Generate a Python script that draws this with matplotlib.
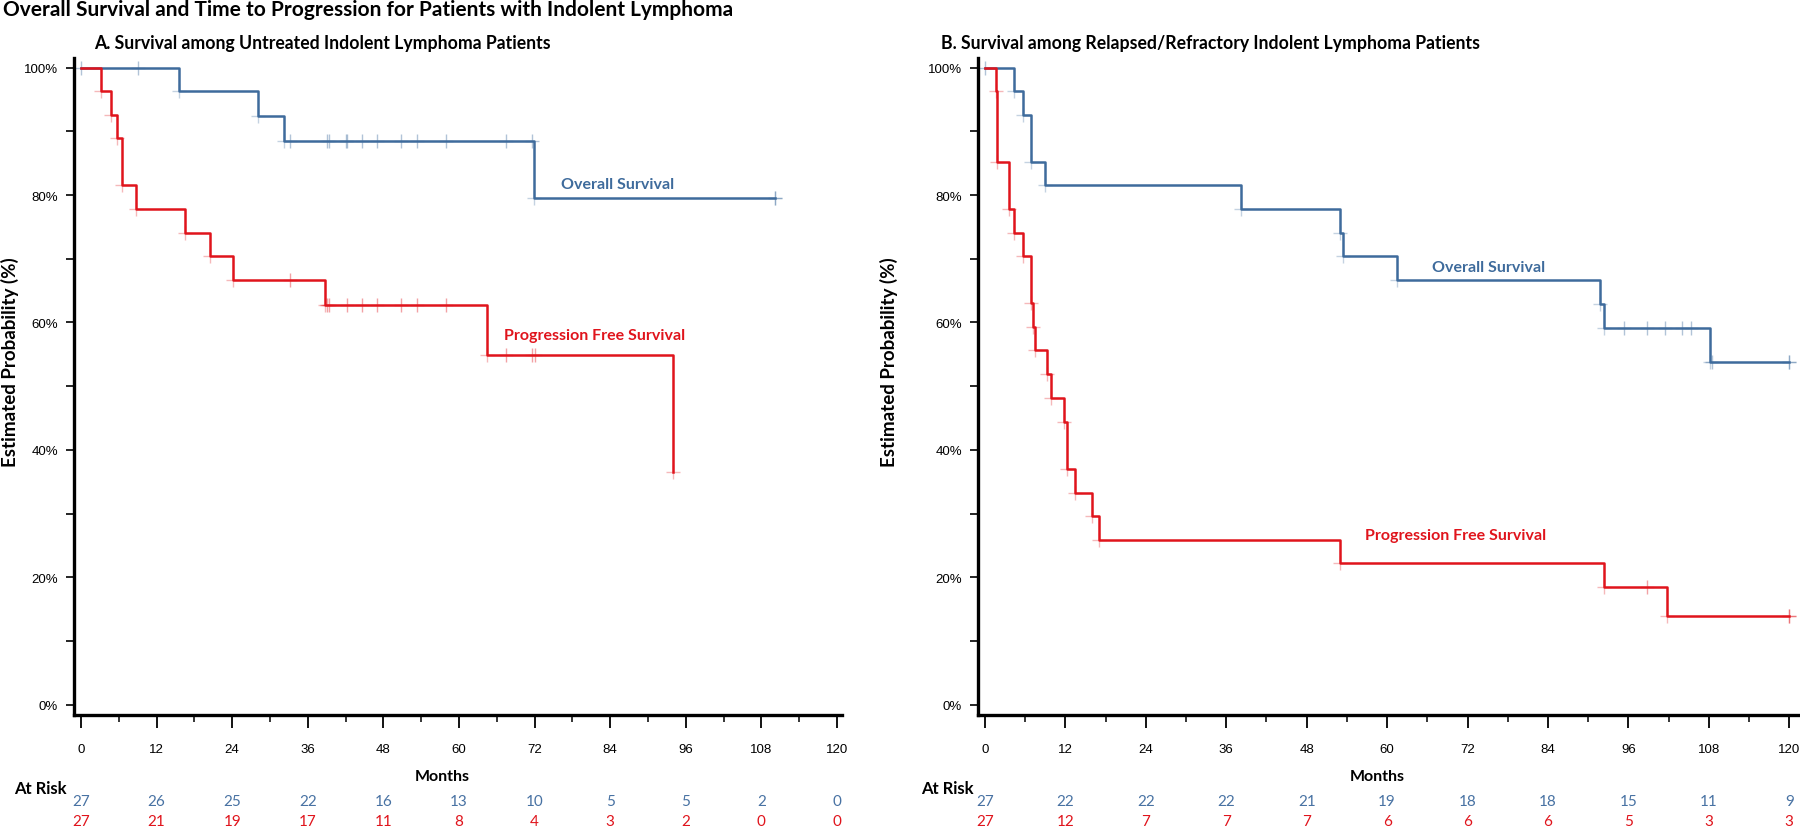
import matplotlib
matplotlib.use("Agg")
import matplotlib.pyplot as plt
import matplotlib.transforms as mtransforms
from matplotlib.ticker import MultipleLocator, FuncFormatter

plt.rcParams['font.family'] = ['Lato', 'DejaVu Sans']

BLUE = '#3E6B9C'
RED = '#E0141C'
BLUE_TXT = '#4872A3'

# Panel A: untreated patients (months, survival %)
os_a_t = [0, 15.5, 28.1, 32.2, 71.9, 110.1]
os_a_s = [100, 96.3, 92.4, 88.4, 79.6, 79.6]
os_a_cens_t = [0, 9.1, 33.1, 39.1, 39.4, 42.0, 42.3, 44.6, 47.0, 50.8, 53.4, 58.0, 67.4, 71.6, 110.1]
os_a_cens_s = [100, 100, 88.4, 88.4, 88.4, 88.4, 88.4, 88.4, 88.4, 88.4, 88.4, 88.4, 88.4, 88.4, 79.6]

pfs_a_t = [0, 3.2, 4.7, 5.7, 6.5, 8.7, 16.5, 20.4, 24.2, 38.8, 64.5, 93.9]
pfs_a_s = [100, 96.3, 92.6, 88.9, 81.5, 77.8, 74.1, 70.4, 66.7, 62.7, 54.9, 36.6]
pfs_a_cens_t = [33.1, 39.1, 39.4, 42.2, 44.6, 47.0, 50.8, 53.4, 58.0, 67.4, 71.6, 72.0]
pfs_a_cens_s = [66.7, 62.7, 62.7, 62.7, 62.7, 62.7, 62.7, 62.7, 62.7, 54.9, 54.9, 54.9]

# Panel B: relapsed/refractory patients
os_b_t = [0, 4.4, 5.6, 6.8, 8.9, 38.2, 52.9, 53.4, 61.5, 91.7, 92.3, 108.1, 119.9]
os_b_s = [100, 96.3, 92.6, 85.2, 81.5, 77.8, 74.1, 70.4, 66.7, 62.9, 59.2, 53.8, 53.8]
os_b_cens_t = [0, 95.3, 98.7, 101.4, 104.0, 105.4, 108.4, 119.9]
os_b_cens_s = [100, 59.2, 59.2, 59.2, 59.2, 59.2, 53.8, 53.8]

pfs_b_t = [0, 1.6, 1.8, 3.6, 4.4, 5.6, 6.8, 7.2, 7.5, 9.2, 9.8, 11.8, 12.2, 13.4, 15.9, 17.0,
           52.9, 92.3, 101.7, 119.9]
pfs_b_s = [100, 96.3, 85.2, 77.8, 74.1, 70.4, 63.0, 59.3, 55.6, 51.9, 48.1, 44.4, 37.0, 33.3,
           29.6, 25.9, 22.2, 18.5, 13.9, 13.9]
pfs_b_cens_t = [98.7, 119.9]
pfs_b_cens_s = [18.5, 13.9]

risk_months = [0, 12, 24, 36, 48, 60, 72, 84, 96, 108, 120]
risk_os_a = [27, 26, 25, 22, 16, 13, 10, 5, 5, 2, 0]
risk_pfs_a = [27, 21, 19, 17, 11, 8, 4, 3, 2, 0, 0]
risk_os_b = [27, 22, 22, 22, 21, 19, 18, 18, 15, 11, 9]
risk_pfs_b = [27, 12, 7, 7, 7, 6, 6, 6, 5, 3, 3]

W, H = 1800, 829
fig = plt.figure(figsize=(18, 8.29), dpi=100)


def fx(px):
    return px / W


def fy(py):
    return 1 - py / H


def setup_axes(ax, xlim):
    ax.set_xlim(*xlim)
    ax.set_ylim(-1.6, 101.5)
    for s in ['top', 'right']:
        ax.spines[s].set_visible(False)
    for s in ['left', 'bottom']:
        ax.spines[s].set_linewidth(2.4)
    ax.xaxis.set_major_locator(MultipleLocator(12))
    ax.xaxis.set_minor_locator(MultipleLocator(6))
    ax.yaxis.set_major_locator(MultipleLocator(20))
    ax.yaxis.set_minor_locator(MultipleLocator(10))
    ax.yaxis.set_major_formatter(FuncFormatter(lambda v, p: f'{v:.0f}%'))
    ax.tick_params(axis='x', which='major', length=9, width=1.3, pad=11, labelsize=9.5)
    ax.tick_params(axis='x', which='minor', length=5, width=1.1)
    ax.tick_params(axis='y', which='both', length=5.5, width=1.2, pad=6, labelsize=9.5)
    for lab in ax.get_xticklabels() + ax.get_yticklabels():
        lab.set_fontfamily('Liberation Sans')


def draw_curve(ax, t, s, ct, cs, color):
    ax.step(t, s, where='post', color=color, lw=1.8, zorder=3)
    ax.plot(t[1:], s[1:], '+', color=color, ms=10, mew=1.0, alpha=0.3, zorder=2)
    ax.plot(ct, cs, '+', color=color, ms=10, mew=1.0, alpha=0.4, zorder=2)


def risk_table(ax, os_n, pfs_n):
    tr = mtransforms.blended_transform_factory(ax.transData, fig.transFigure)
    for m, a, b in zip(risk_months, os_n, pfs_n):
        ax.text(m, fy(802), str(a), transform=tr, ha='center', va='center',
                fontsize=11, color=BLUE_TXT, clip_on=False)
        ax.text(m, fy(822), str(b), transform=tr, ha='center', va='center',
                fontsize=11, color=RED, clip_on=False)


# panel A
ax_a = fig.add_axes([fx(74), fy(716), fx(842 - 74), (716 - 59) / H])
setup_axes(ax_a, (-1.11, 120.8))
draw_curve(ax_a, os_a_t, os_a_s, os_a_cens_t, os_a_cens_s, BLUE)
draw_curve(ax_a, pfs_a_t, pfs_a_s, pfs_a_cens_t, pfs_a_cens_s, RED)
ax_a.text(85.2, 81.8, 'Overall Survival', color=BLUE, fontsize=11.5, fontweight='bold',
          ha='center', va='center')
ax_a.text(81.6, 58.0, 'Progression Free Survival', color=RED, fontsize=11.5,
          fontweight='bold', ha='center', va='center')
risk_table(ax_a, risk_os_a, risk_pfs_a)
tra = mtransforms.blended_transform_factory(ax_a.transData, fig.transFigure)
ax_a.text(57.3, fy(777), 'Months', transform=tra, ha='center', va='center',
          fontsize=11.5, fontweight='bold')

# panel B
ax_b = fig.add_axes([fx(978), fy(716), fx(1800 - 978), (716 - 59) / H])
setup_axes(ax_b, (-1.04, 121.6))
draw_curve(ax_b, os_b_t, os_b_s, os_b_cens_t, os_b_cens_s, BLUE)
draw_curve(ax_b, pfs_b_t, pfs_b_s, pfs_b_cens_t, pfs_b_cens_s, RED)
ax_b.text(75.1, 68.7, 'Overall Survival', color=BLUE, fontsize=11.5, fontweight='bold',
          ha='center', va='center')
ax_b.text(70.2, 26.6, 'Progression Free Survival', color=RED, fontsize=11.5,
          fontweight='bold', ha='center', va='center')
risk_table(ax_b, risk_os_b, risk_pfs_b)
trb = mtransforms.blended_transform_factory(ax_b.transData, fig.transFigure)
ax_b.text(58.5, fy(777), 'Months', transform=trb, ha='center', va='center',
          fontsize=11.5, fontweight='bold')

# titles and labels
fig.text(fx(3), fy(10), 'Overall Survival and Time to Progression for Patients with Indolent Lymphoma',
         ha='left', va='center', fontsize=15, fontweight='bold')
fig.text(fx(94), fy(44), 'A. Survival among Untreated Indolent Lymphoma Patients',
         ha='left', va='center', fontsize=12.7, fontweight='bold')
fig.text(fx(941), fy(44), 'B. Survival among Relapsed/Refractory Indolent Lymphoma Patients',
         ha='left', va='center', fontsize=12.7, fontweight='bold')
for xp in [10, 889]:
    fig.text(fx(xp), fy(362), 'Estimated Probability (%)', rotation=90, ha='center',
             va='center', fontsize=13.5, fontweight='bold')
for xp in [40, 947]:
    fig.text(fx(xp), fy(789), 'At Risk', ha='center', va='center', fontsize=12,
             fontweight='bold')

fig.savefig('out.png', dpi=100)
